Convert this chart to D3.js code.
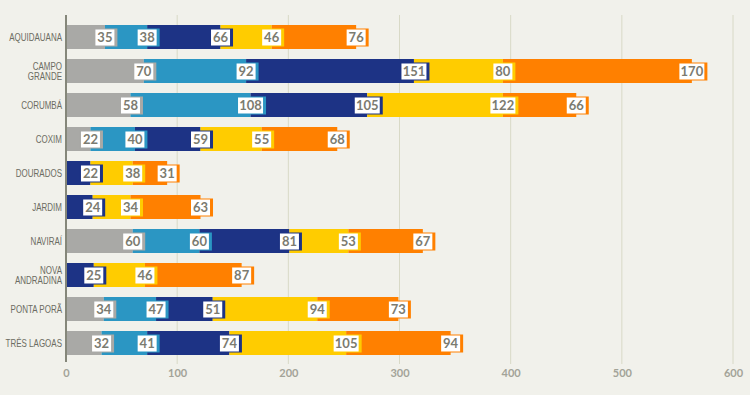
<!DOCTYPE html>
<html><head><meta charset="utf-8">
<script src="https://cdn.jsdelivr.net/npm/d3@7"></script>
<style>
html,body{margin:0;padding:0;background:#f1f1eb;}
svg{display:block;}
</style></head>
<body>
<script>
const categories = ["AQUIDAUANA","CAMPO GRANDE","CORUMBÁ","COXIM","DOURADOS","JARDIM","NAVIRAÍ","NOVA ANDRADINA","PONTA PORÃ","TRÊS LAGOAS"];
const series1 = [35,70,58,22,0,0,60,0,34,32];
const series2 = [38,92,108,40,0,0,60,0,47,41];
const series3 = [66,151,105,59,22,24,81,25,51,74];
const series4 = [46,80,122,55,38,34,53,46,94,105];
const series5 = [76,170,66,68,31,63,67,87,73,94];
const tickValues = [0,100,200,300,400,500,600];
const colors = ["#a9a9a6","#2b96c3","#1d3385","#ffcc00","#ff8000"];

const W = 750, H = 395;
const svg = d3.select("body").append("svg").attr("width", W).attr("height", H);
svg.append("rect").attr("width", W).attr("height", H).attr("fill", "#f1f1eb");

const x = d3.scaleLinear().domain([0, 600]).range([66, 733]);
const y = d3.scaleBand().domain(categories).range([20, 360]).paddingInner(10/34).paddingOuter(5/34);

// gridlines
svg.append("g").selectAll("line").data(tickValues.slice(1)).join("line")
  .attr("x1", d => x(d)).attr("x2", d => x(d)).attr("y1", 15).attr("y2", 364)
  .attr("stroke", "#d8d9c6").attr("stroke-width", 1);

// tick labels via axis
const axis = d3.axisBottom(x).tickValues(tickValues).tickSize(0).tickPadding(0);
const ag = svg.append("g").attr("transform", "translate(0,369)").call(axis);
ag.select(".domain").remove();
ag.selectAll("text").attr("fill", "#a3a398").attr("font-family", "Lato, sans-serif")
  .attr("font-weight", "bold").attr("font-size", 11).attr("dy", "0.71em");

const allSeries = [series1, series2, series3, series4, series5];
const data = categories.map((c, i) => {
  const o = {cat: c};
  allSeries.forEach((s, k) => o["s" + k] = s[i]);
  return o;
});
const keys = allSeries.map((s, k) => "s" + k);
const stacked = d3.stack().keys(keys)(data);

// bars
stacked.forEach((layer, k) => {
  svg.append("g").selectAll("rect").data(layer.filter(d => d[1] > d[0])).join("rect")
    .attr("x", d => x(d[0])).attr("width", d => x(d[1]) - x(d[0]))
    .attr("y", d => y(d.data.cat)).attr("height", y.bandwidth())
    .attr("fill", colors[k]);
});

// axis line
svg.append("line").attr("x1", 66).attr("x2", 66).attr("y1", 15).attr("y2", 362)
  .attr("stroke", "#85877a").attr("stroke-width", 2);

// labels
stacked.forEach((layer, k) => {
  const g = svg.append("g");
  layer.filter(d => d[1] > d[0]).forEach(d => {
    const val = d[1] - d[0];
    const txt = String(val);
    const w = txt.length >= 3 ? 25 : 19;
    const cx = x(d[1]);
    const cy = y(d.data.cat) + y.bandwidth() / 2 + 0.5;
    const bx = cx - w / 2, by = cy - 8;
    g.append("rect").attr("x", bx - 1).attr("y", by - 1).attr("width", w + 4).attr("height", 18)
      .attr("fill", colors[k]);
    g.append("rect").attr("x", bx).attr("y", by).attr("width", w).attr("height", 16)
      .attr("fill", "#ffffff");
    g.append("text").attr("x", bx + w / 2).attr("y", cy).attr("dy", "0.36em")
      .attr("text-anchor", "middle").attr("fill", "#7b7b70")
      .attr("font-family", "Lato, sans-serif").attr("font-weight", "bold").attr("font-size", 13)
      .text(txt);
  });
});

// category labels (condensed)
const cg = svg.append("g");
categories.forEach(c => {
  const parts = c === "CAMPO GRANDE" ? ["CAMPO","GRANDE"] : c === "NOVA ANDRADINA" ? ["NOVA","ANDRADINA"] : [c];
  const cy = y(c) + y.bandwidth() / 2;
  const t = cg.append("text").attr("transform", `translate(62,${cy}) scale(0.8,1)`)
    .attr("text-anchor", "end").attr("fill", "#6c6c62")
    .attr("font-family", "'Liberation Sans', Arial, sans-serif").attr("font-size", 10);
  parts.forEach((p, i) => {
    t.append("tspan").attr("x", 0).attr("y", (i - (parts.length - 1) / 2) * 10).attr("dy", "0.35em").text(p);
  });
});
</script>
</body></html>
